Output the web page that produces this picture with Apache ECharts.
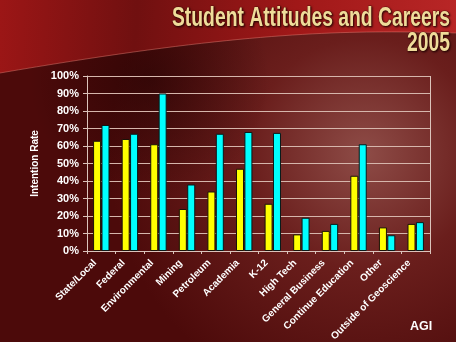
<!DOCTYPE html>
<html>
<head>
<meta charset="utf-8">
<script src="https://cdn.jsdelivr.net/npm/echarts@6/dist/echarts.min.js"></script>
<style>
  html, body { margin: 0; padding: 0; background: #4a0a0a; }
  #chart { width: 456px; height: 342px; }
</style>
</head>
<body>
<div id="chart"></div>
<script>
// Career intention rates by sector, 2005
const categories = [
  'State/Local', 'Federal', 'Environmental', 'Mining', 'Petroleum', 'Academia',
  'K-12', 'High Tech', 'General Business', 'Continue Education', 'Other',
  'Outside of Geoscience'
];
const yellowSeries = [63, 64, 61, 24, 34, 47, 27, 9.5, 11.5, 43, 13.5, 15.5];
const cyanSeries = [72, 67, 90, 38, 67, 68, 67.5, 19, 15.5, 61, 9, 16.5];
const yTicks = [0, 10, 20, 30, 40, 50, 60, 70, 80, 90, 100];

const titleLines = ['Student Attitudes and Careers', '2005'];

const chart = echarts.init(document.getElementById('chart'), null, { renderer: 'canvas' });

const labelFont = 'Liberation Sans, Arial, sans-serif';
const titleFont = 'bold 28px "Liberation Sans", Arial, sans-serif';

// curved edge of the red band across the top (cubic bezier sampled into points)
function swooshEdge() {
  const p0 = [456, 33], p1 = [350, 30], p2 = [250, 30], p3 = [0, 73];
  const pts = [];
  for (let i = 0; i <= 40; i++) {
    const t = i / 40, u = 1 - t;
    const a = u * u * u, b = 3 * u * u * t, c = 3 * u * t * t, d = t * t * t;
    pts.push([a * p0[0] + b * p1[0] + c * p2[0] + d * p3[0],
              a * p0[1] + b * p1[1] + c * p2[1] + d * p3[1]]);
  }
  return pts;
}
const edge = swooshEdge();

function titleText(text, y) {
  return {
    type: 'text', z: 10, x: 450, y: y, scaleX: 0.69,
    style: {
      text: text, fill: '#efdc9a', font: titleFont,
      align: 'right', verticalAlign: 'top',
      stroke: 'rgba(70,20,10,0.6)', lineWidth: 1,
      textShadowColor: 'rgba(30,0,0,0.85)', textShadowBlur: 2,
      textShadowOffsetX: 1, textShadowOffsetY: 1
    }
  };
}

chart.setOption({
  animation: false,
  backgroundColor: new echarts.graphic.RadialGradient(0.8, 0.45, 0.75, [
    { offset: 0, color: '#8e4c47' },
    { offset: 0.45, color: '#6a1e1c' },
    { offset: 1, color: '#4c0a0a' }
  ]),
  graphic: [
    // dark shade just below the band on the left
    {
      type: 'circle', z: -11, silent: true,
      shape: { cx: 150, cy: 80, r: 120 },
      style: {
        fill: new echarts.graphic.RadialGradient(0.5, 0.5, 0.5, [
          { offset: 0, color: 'rgba(30,2,2,0.55)' },
          { offset: 1, color: 'rgba(30,2,2,0)' }
        ])
      }
    },
    {
      type: 'polygon', z: -10, silent: true,
      shape: { points: [[0, 0], [456, 0]].concat(edge) },
      style: {
        fill: new echarts.graphic.LinearGradient(0, 0, 1, 0.3, [
          { offset: 0, color: '#9c1616' },
          { offset: 0.3, color: '#701010' },
          { offset: 0.65, color: '#a01818' },
          { offset: 1, color: '#b82626' }
        ])
      }
    },
    {
      type: 'polyline', z: -9, silent: true,
      shape: { points: edge },
      style: { fill: null, stroke: 'rgba(230,130,120,0.45)', lineWidth: 1 }
    },
    titleText(titleLines[0], 4),
    titleText(titleLines[1], 29),
    {
      type: 'text', z: 10, x: 410, y: 320,
      style: { text: 'AGI', fill: '#ffffff', font: 'bold 12.5px ' + labelFont }
    },
    // right border of the plot area
    {
      type: 'line', z: 5, silent: true,
      shape: { x1: 430.5, y1: 76, x2: 430.5, y2: 251 },
      style: { stroke: '#dcc4bc', lineWidth: 1 }
    }
  ],
  grid: { left: 87, right: 26, top: 76, bottom: 91, containLabel: false, outerBoundsMode: 'none' },
  xAxis: {
    type: 'category',
    data: categories,
    axisLine: { lineStyle: { color: '#dcc4bc', width: 1 } },
    axisTick: { show: true, length: 3, alignWithLabel: false, lineStyle: { color: '#dcc4bc' } },
    axisLabel: {
      rotate: 45, interval: 0, margin: 4, padding: [0, 9, 0, 0],
      color: '#ffffff', fontWeight: 'bold', fontSize: 10, fontFamily: labelFont
    }
  },
  yAxis: {
    type: 'value',
    min: yTicks[0], max: yTicks[yTicks.length - 1], interval: 10,
    name: 'Intention Rate', nameLocation: 'middle', nameGap: 47,
    nameTextStyle: { color: '#ffffff', fontWeight: 'bold', fontSize: 10, fontFamily: labelFont },
    axisLine: { show: true, lineStyle: { color: '#dcc4bc', width: 1 } },
    axisTick: { show: true, length: 4, lineStyle: { color: '#dcc4bc' } },
    axisLabel: {
      color: '#ffffff', fontWeight: 'bold', fontSize: 11, fontFamily: labelFont, margin: 8,
      formatter: v => v + '%'
    },
    splitLine: { show: true, lineStyle: { color: '#d6b6ac', width: 1 } }
  },
  series: [
    {
      type: 'bar', data: yellowSeries, barWidth: 8, barGap: '5%',
      itemStyle: { color: '#ffff00', borderColor: '#1a1208', borderWidth: 1 }
    },
    {
      type: 'bar', data: cyanSeries, barWidth: 8,
      itemStyle: { color: '#00ffff', borderColor: '#0a1a1a', borderWidth: 1 }
    }
  ]
});
</script>
</body>
</html>
